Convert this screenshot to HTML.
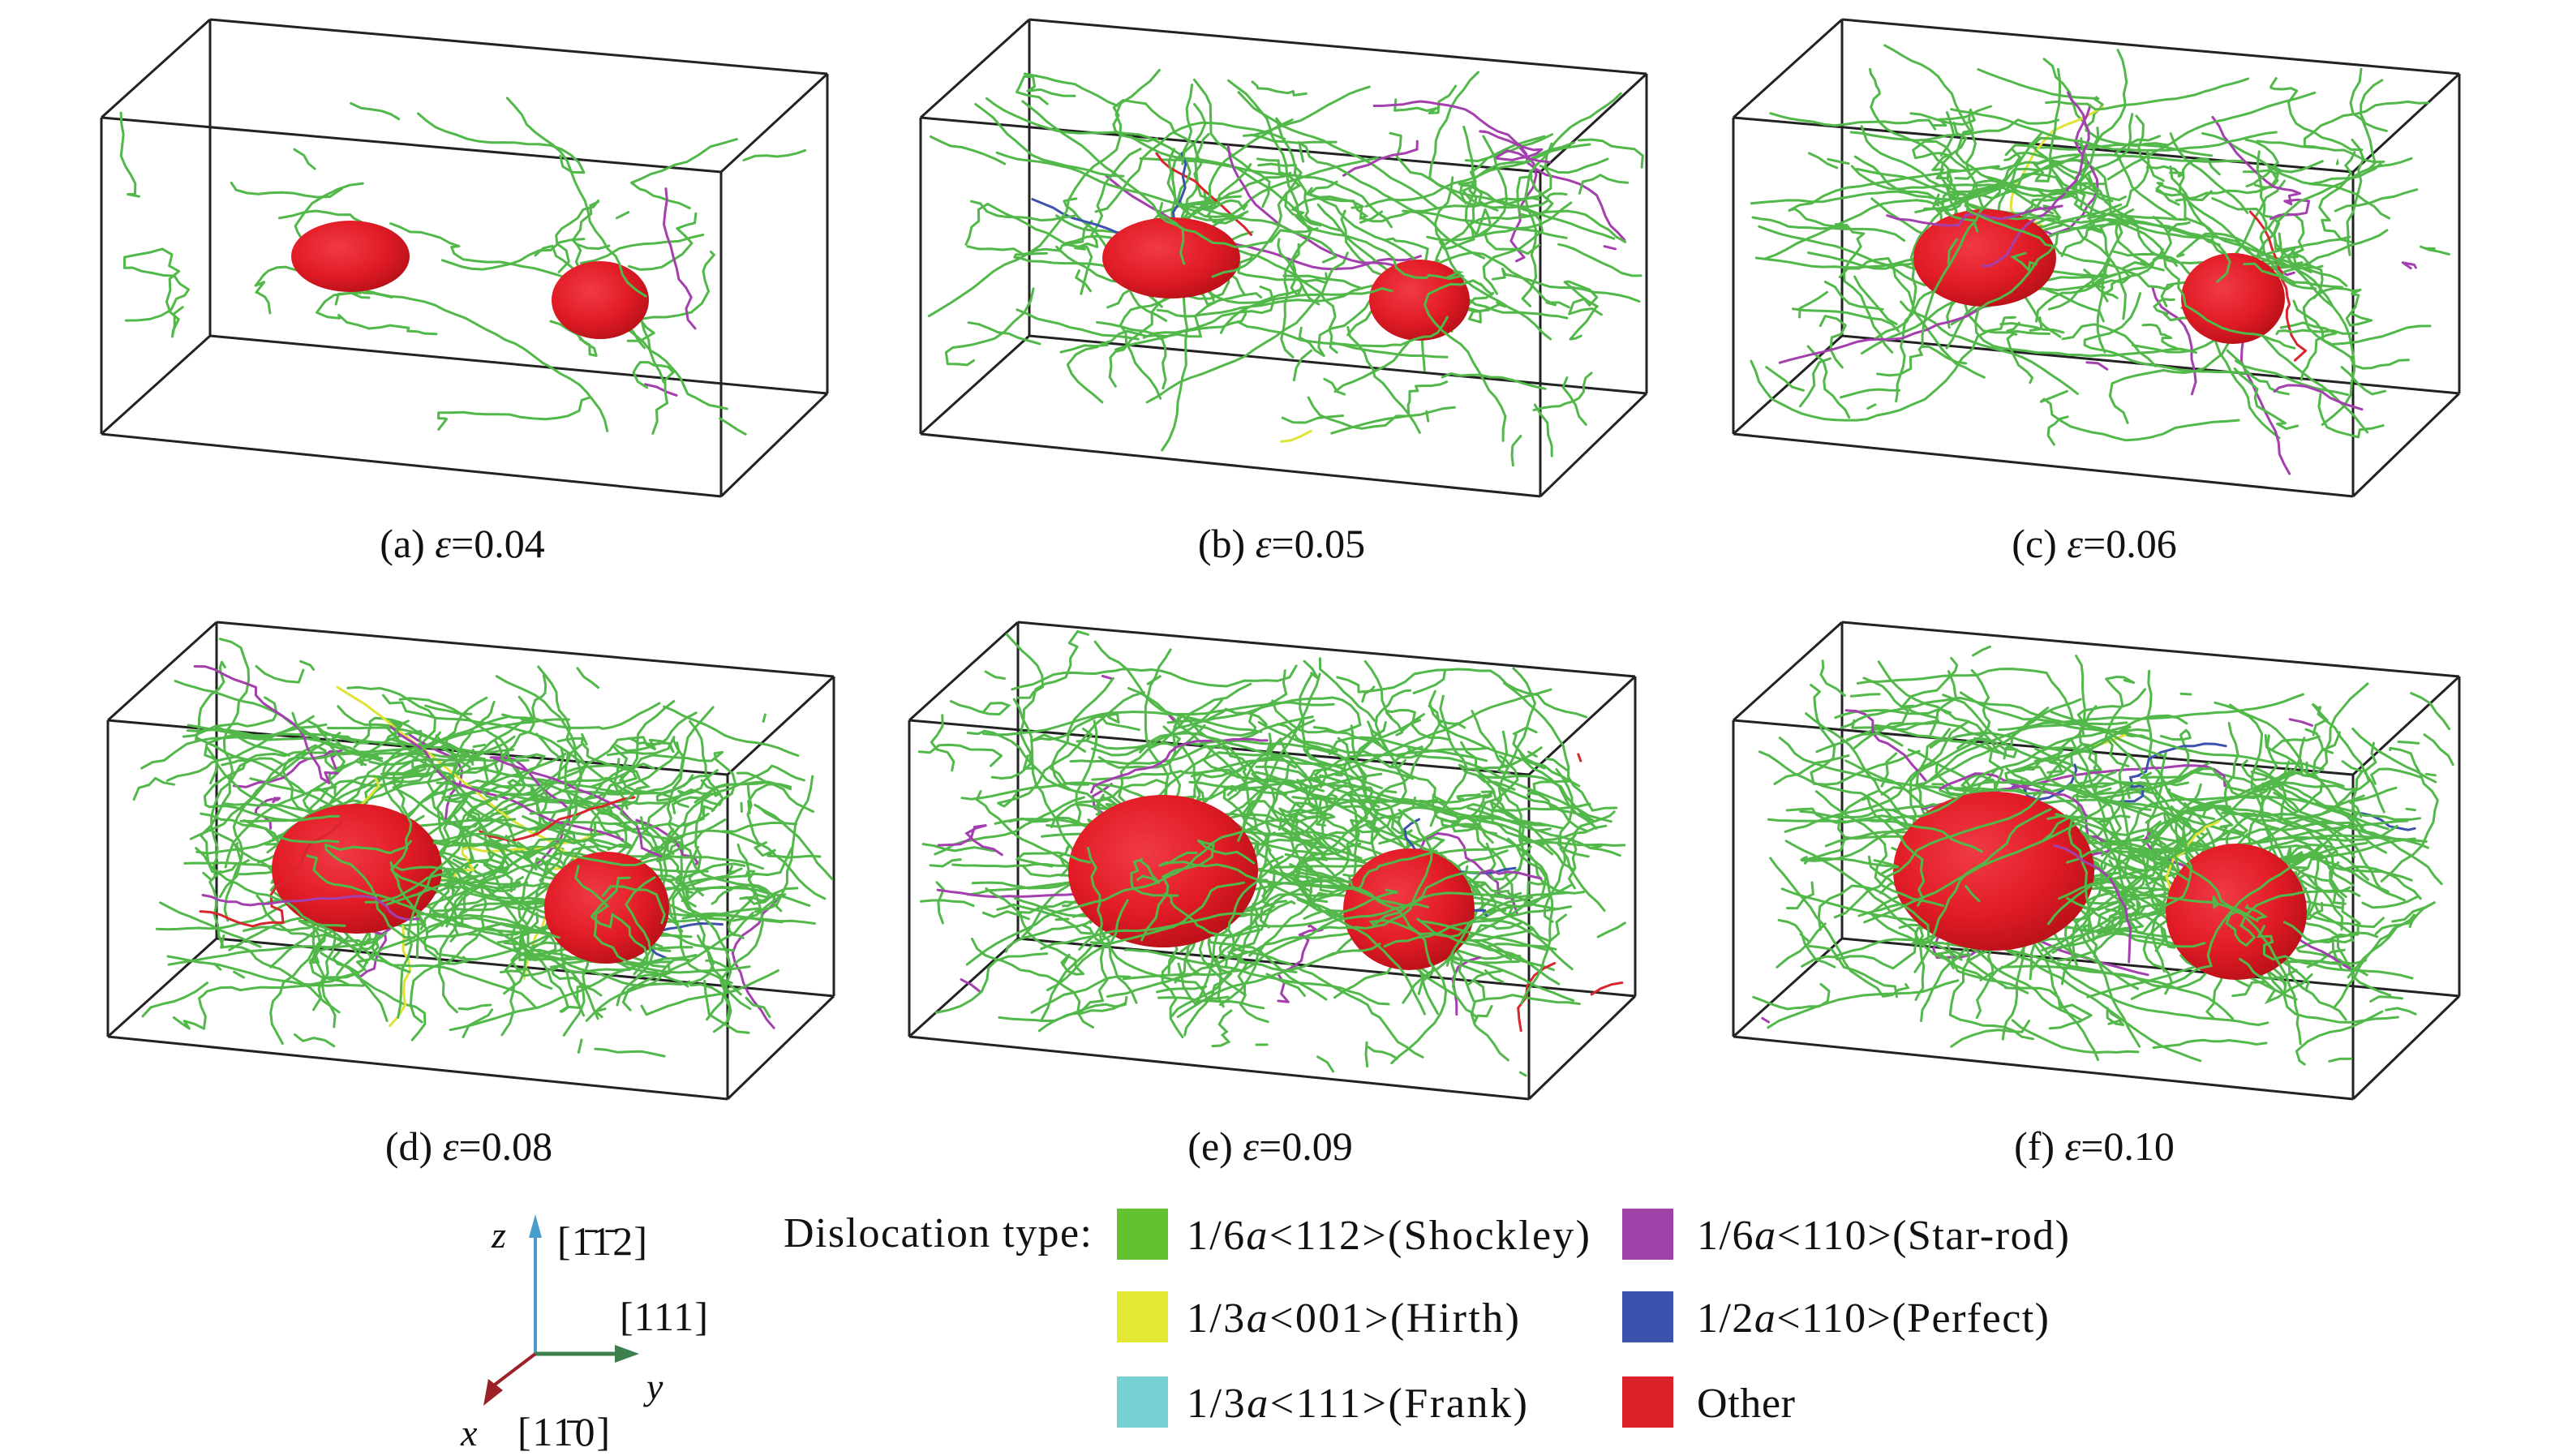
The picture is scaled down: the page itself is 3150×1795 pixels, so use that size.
<!DOCTYPE html>
<html><head><meta charset="utf-8">
<style>
html,body{margin:0;padding:0;background:#fff;}
svg{display:block;}
text{font-family:"Liberation Serif",serif;fill:#111;}
</style></head>
<body>
<svg id="fig" width="3150" height="1795" viewBox="0 0 3150 1795" xmlns="http://www.w3.org/2000/svg">
<defs>
<radialGradient id="sph" cx="0.4" cy="0.38" r="0.72">
<stop offset="0" stop-color="#f03a45"/>
<stop offset="0.55" stop-color="#e21c26"/>
<stop offset="1" stop-color="#b00e16"/>
</radialGradient>
</defs>
<g id="panels"></g>
<g transform="translate(0,-8)">
  <g>
    <line x1="660" y1="1677" x2="660" y2="1530" stroke="#4a9ccc" stroke-width="4"/>
    <polygon points="660,1505 652,1534 668,1534" fill="#4a9ccc"/>
    <line x1="660" y1="1677" x2="765" y2="1677" stroke="#3e7f4e" stroke-width="5"/>
    <polygon points="788,1677 758,1666 758,1688" fill="#3e7f4e"/>
    <line x1="660" y1="1677" x2="610" y2="1715" stroke="#9c2028" stroke-width="4"/>
    <polygon points="596,1741 602,1708 620,1722" fill="#9c2028"/>
    <text x="606" y="1546" font-size="46" font-style="italic">z</text>
    <text x="687" y="1555" font-size="50" textLength="111">[1̄1̄2]</text>
    <text x="764" y="1648" font-size="50" textLength="109">[111]</text>
    <text x="797" y="1733" font-size="46" font-style="italic">y</text>
    <text x="568" y="1790" font-size="46" font-style="italic">x</text>
    <text x="638" y="1790" font-size="50" textLength="114">[11̄0]</text>
  </g>
  <text x="966" y="1545" font-size="52" textLength="380">Dislocation type:</text>
  <g><rect x="1377" y="1498" width="63" height="63" fill="#62c232"/><text x="1463" y="1548" font-size="52" textLength="497">1/6<tspan font-style="italic">a</tspan>&lt;112&gt;(Shockley)</text></g>
  <g><rect x="1377" y="1600" width="63" height="63" fill="#e3e832"/><text x="1463" y="1650" font-size="52" textLength="410">1/3<tspan font-style="italic">a</tspan>&lt;001&gt;(Hirth)</text></g>
  <g><rect x="1377" y="1705" width="63" height="63" fill="#76d1d2"/><text x="1463" y="1755" font-size="52" textLength="420">1/3<tspan font-style="italic">a</tspan>&lt;111&gt;(Frank)</text></g>
  <g><rect x="2000" y="1498" width="63" height="63" fill="#a043a8"/><text x="2092" y="1548" font-size="52" textLength="459">1/6<tspan font-style="italic">a</tspan>&lt;110&gt;(Star-rod)</text></g>
  <g><rect x="2000" y="1600" width="63" height="63" fill="#3c52ad"/><text x="2092" y="1650" font-size="52" textLength="434">1/2<tspan font-style="italic">a</tspan>&lt;110&gt;(Perfect)</text></g>
  <g><rect x="2000" y="1705" width="63" height="63" fill="#dc2128"/><text x="2092" y="1755" font-size="52" textLength="121">Other</text></g>
</g>
</svg>
<script>
const panelLabels = ["0.04","0.05","0.06","0.08","0.09","0.10"];
const panelLetters = ["a","b","c","d","e","f"];
const lineCounts = [24, 110, 140, 240, 250, 260];
const bigR = [[73,44],[85,50],[88,60],[105,80],[117,94],[124,98]];
const smallR = [[60,48],[62,50],[64,56],[77,69],[81,75],[87,84]];
const bigC = [[432,316],[434,318],[435,318],[432,328],[438,331],[446,331]];
const smallC = [[740,370],[740,370],[741,368],[740,376],[741,378],[745,381]];
const offX = [0,1010,2012,8,996,2012];
const offY = [0,0,0,743,743,743];

const NS="http://www.w3.org/2000/svg";
const root=document.getElementById('panels');
function mk(tag,attrs,parent){const e=document.createElementNS(NS,tag);for(const k in attrs)e.setAttribute(k,attrs[k]);parent.appendChild(e);return e;}
function rng(seed){return function(){seed|=0;seed=seed+0x6D2B79F5|0;let t=Math.imul(seed^seed>>>15,1|seed);t=t+Math.imul(t^t>>>7,61|t)^t;return((t^t>>>14)>>>0)/4294967296;};}
function proj(u,v,w){return [125+u*764+w*134, 145+u*67+v*390-w*121];}

for(let p=0;p<6;p++){
  const g=mk('g',{transform:`translate(${offX[p]},${offY[p]})`},root);
  
  
  const R=rng(1234+p*77);
  const box=[[259,24],[1020,91],[889,212],[125,145],[125,535],[889,612],[1020,485],[259,414]];
  const bk=mk('g',{stroke:'#222','stroke-width':3,fill:'none'},g);
  
  
  const edges=[[0,1],[1,2],[2,3],[3,0],[4,5],[5,6],[6,7],[7,4],[0,7],[1,6],[2,5],[3,4]];
  edges.forEach(e=>mk('line',{x1:box[e[0]][0],y1:box[e[0]][1],x2:box[e[1]][0],y2:box[e[1]][1]},bk));
  const lg=mk('g',{fill:'none','stroke-width':3,'stroke-linecap':'round','stroke-linejoin':'round'},g);
  
  
  function line(target){
    let u,v,w;
    if(R()<0.45){const c=R()<0.55?0.4:0.78;u=c+(R()-0.5)*0.35;v=0.45+(R()-0.5)*0.6;w=R();}
    else{u=R();v=R();w=R();}
    let du=(R()-0.5),dv=(R()-0.5),dw=(R()-0.5);
    const n=10+Math.floor(R()*(p===0?45:25));
    let pt=proj(u,v,w);
    let d=`M${pt[0].toFixed(1)},${pt[1].toFixed(1)}`;
    for(let i=0;i<n;i++){
      du+=(R()-0.5)*0.9;dv+=(R()-0.5)*0.9;dw+=(R()-0.5)*0.9;
      const L=Math.hypot(du*764,dv*390,dw*180)||1;
      u+=du*764/L*13/764;v+=dv*390/L*13/390;w+=dw*180/L*13/180;
      if(u<0||u>1||v<0||v>1||w<0||w>1)break;
      pt=proj(u,v,w);d+=`L${pt[0].toFixed(1)},${pt[1].toFixed(1)}`;}
    const r=R();let col='#52b84a';
    if(r>0.955)col='#a43fae';else if(r>0.945)col='#d8262e';else if(r>0.94)col='#e0e236';else if(r>0.935)col='#3c52ad';
    mk('path',{d:d,stroke:col},target);
  }
  const N=lineCounts[p];
  for(let i=0;i<N;i++)line(lg);
  const sg=mk('g',{},g);
  
  
  const b=mk('ellipse',{cx:bigC[p][0],cy:bigC[p][1],rx:bigR[p][0],ry:bigR[p][1],fill:'url(#sph)'},sg);
  
  
  const s=mk('ellipse',{cx:smallC[p][0],cy:smallC[p][1],rx:smallR[p][0],ry:smallR[p][1],fill:'url(#sph)'},sg);
  
  
  const fg=mk('g',{fill:'none','stroke-width':3,'stroke-linecap':'round'},g);
  
  
  for(let i=0;i<Math.floor(N*0.2);i++)line(fg);
  const t=mk('text',{x:570,y:687,'font-size':50,'text-anchor':'middle'},g);
  
  
  t.innerHTML=`(${panelLetters[p]}) <tspan font-style="italic">ε</tspan>=${panelLabels[p]}`;
}
</script>
</body></html>
